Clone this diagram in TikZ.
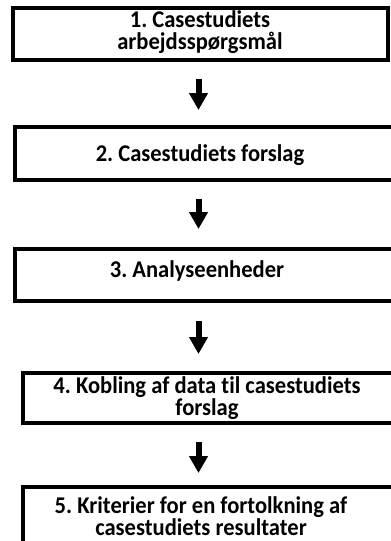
\documentclass[tikz,border=0pt]{standalone}
\usepackage{fontspec}
\setmainfont{Carlito}[Ligatures={NoCommon}, FakeStretch=0.94]
\usetikzlibrary{arrows.meta}
\frenchspacing
\tikzset{
  stepbox/.style={draw=black, line width=4pt, rectangle, inner sep=0pt, fill=white},
  steptext/.style={font=\fontsize{24}{22}\selectfont\bfseries, align=center, inner sep=0pt},
  flowarrow/.style={line width=6pt, -{Triangle[width=18pt,length=17pt]}, shorten <=17pt}
}
\begin{document}
\begin{tikzpicture}[x=1pt,y=-1pt]
\useasboundingbox (0,0) rectangle (391,541);
\clip (0,0) rectangle (391,541);
\fill[white] (0,0) rectangle (391,541);
% boxes
\node[stepbox, minimum width=375.5pt, minimum height=52pt] (b1) at (200.25,34) {};
\node[stepbox, minimum width=378pt, minimum height=53pt] (b2) at (203.5,153.5) {};
\node[stepbox, minimum width=378pt, minimum height=52pt] (b3) at (203.5,275) {};
\node[stepbox, minimum width=377pt, minimum height=50pt] (b4) at (211.5,398) {};
\node[stepbox, minimum width=377pt, minimum height=55.5pt] (b5) at (211.5,514.75) {};
% texts
\node[steptext] (t1) at (200,32) {1. Casestudiets\\arbejdsspørgsmål};
\node[steptext] (t2) at (200,155) {2. Casestudiets forslag};
\node[steptext] (t3) at (197,271) {3. Analyseenheder};
\node[steptext] (t4) at (207,398) {4. Kobling af data til casestudiets\\forslag};
\node[steptext] (t5) at (201,516) {5. Kriterier for en fortolkning af\\casestudiets resultater};
% arrows
\coordinate (ax) at (198.5,0);
\draw[flowarrow, shorten >=15pt] (b1.south -| ax) -- (b2.north -| ax);
\draw[flowarrow, shorten >=18pt] (b2.south -| ax) -- (b3.north -| ax);
\draw[flowarrow, shorten <=18pt, shorten >=17pt] (b3.south -| ax) -- (b4.north -| ax);
\draw[flowarrow, shorten >=12pt] (b4.south -| ax) -- (b5.north -| ax);
\end{tikzpicture}
\end{document}
